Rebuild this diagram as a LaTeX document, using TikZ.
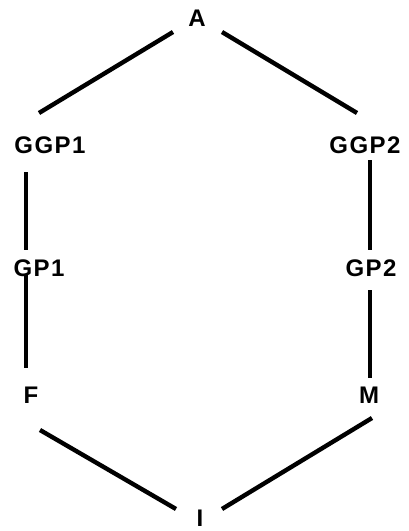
\documentclass[tikz,border=0pt]{standalone}
\usepackage{fontspec}
\setmainfont{Liberation Sans}
\usetikzlibrary{calc}

\begin{document}
\begin{tikzpicture}[x=1pt,y=-1pt,
  person/.style={inner sep=1pt,font=\fontsize{24}{24}\selectfont\bfseries\addfontfeature{LetterSpace=6}},
  edge/.style={line width=4.4pt}]
\useasboundingbox (0,0) rectangle (409,531);
\node[person] (A) at (197,18) {A};
\node[person] (GGP1) at (50,145) {GGP1};
\node[person] (GGP2) at (365,145) {GGP2};
\node[person] (GP1) at (39,268) {GP1};
\node[person] (GP2) at (371,268) {GP2};
\node[person] (F) at (31,395) {F};
\node[person] (M) at (369,395) {M};
\node[person] (I) at (200,518) {I};
% top
\draw[edge] ($(A)+(-24,14)$) -- ($(GGP1)+(-11,-32)$);
\draw[edge] ($(A)+(25,14)$) -- ($(GGP2)+(-8,-32)$);
% sides
\draw[edge] ($(GGP1)+(-24,27)$) -- ($(GP1)+(-13,-18)$);
\draw[edge] ($(GP1)+(-13,7)$) -- ($(F)+(-5,-27)$);
\draw[edge] ($(GGP2)+(5,15)$) -- ($(GP2)+(-1,-18)$);
\draw[edge] ($(GP2)+(-1,22)$) -- ($(M)+(1,-17)$);
% bottom
\draw[edge] ($(F)+(9,35)$) -- ($(I)+(-24,-9)$);
\draw[edge] ($(M)+(3,23)$) -- ($(I)+(22,-9)$);
\end{tikzpicture}
\end{document}
